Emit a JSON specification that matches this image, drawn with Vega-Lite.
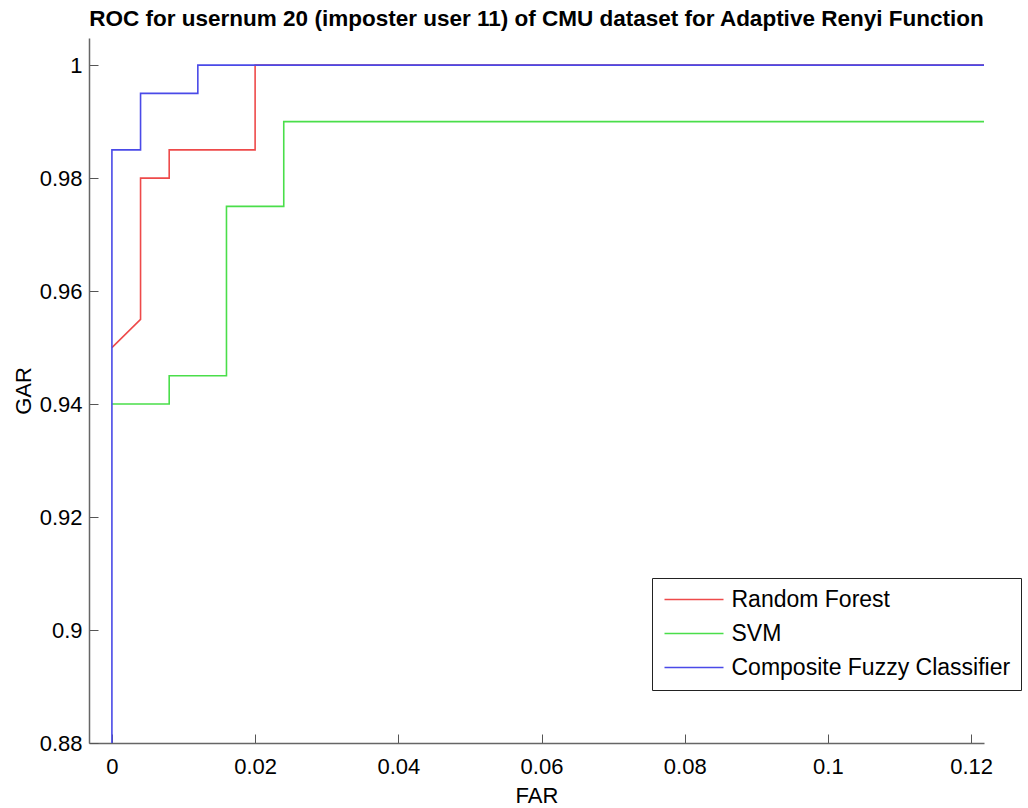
{
  "$schema": "https://vega.github.io/schema/vega-lite/v6.json",
  "autosize": {"type": "none"},
  "padding": {"left": 89, "top": 38, "right": 44, "bottom": 65},
  "width": 895,
  "height": 705,
  "background": "white",
  "title": {
    "text": "ROC for usernum 20 (imposter user 11) of CMU dataset for Adaptive Renyi Function",
    "font": "Liberation Sans",
    "fontSize": 22.5,
    "fontWeight": "bold",
    "color": "black",
    "anchor": "middle",
    "offset": 8
  },
  "data": {
    "values": [
      {"model": "Random Forest", "i": 0, "far": 0.0, "gar": 0.95},
      {"model": "Random Forest", "i": 1, "far": 0.004, "gar": 0.955},
      {"model": "Random Forest", "i": 2, "far": 0.004, "gar": 0.98},
      {"model": "Random Forest", "i": 3, "far": 0.008, "gar": 0.98},
      {"model": "Random Forest", "i": 4, "far": 0.008, "gar": 0.985},
      {"model": "Random Forest", "i": 5, "far": 0.02, "gar": 0.985},
      {"model": "Random Forest", "i": 6, "far": 0.02, "gar": 1.0},
      {"model": "Random Forest", "i": 7, "far": 0.122, "gar": 1.0},
      {"model": "SVM", "i": 0, "far": 0.0, "gar": 0.94},
      {"model": "SVM", "i": 1, "far": 0.008, "gar": 0.94},
      {"model": "SVM", "i": 2, "far": 0.008, "gar": 0.945},
      {"model": "SVM", "i": 3, "far": 0.016, "gar": 0.945},
      {"model": "SVM", "i": 4, "far": 0.016, "gar": 0.975},
      {"model": "SVM", "i": 5, "far": 0.024, "gar": 0.975},
      {"model": "SVM", "i": 6, "far": 0.024, "gar": 0.99},
      {"model": "SVM", "i": 7, "far": 0.122, "gar": 0.99},
      {"model": "Composite Fuzzy Classifier", "i": 0, "far": 0.0, "gar": 0.88},
      {"model": "Composite Fuzzy Classifier", "i": 1, "far": 0.0, "gar": 0.985},
      {"model": "Composite Fuzzy Classifier", "i": 2, "far": 0.004, "gar": 0.985},
      {"model": "Composite Fuzzy Classifier", "i": 3, "far": 0.004, "gar": 0.995},
      {"model": "Composite Fuzzy Classifier", "i": 4, "far": 0.012, "gar": 0.995},
      {"model": "Composite Fuzzy Classifier", "i": 5, "far": 0.012, "gar": 1.0},
      {"model": "Composite Fuzzy Classifier", "i": 6, "far": 0.122, "gar": 1.0}
    ]
  },
  "mark": {"type": "line", "strokeWidth": 1.6, "clip": true},
  "encoding": {
    "x": {
      "field": "far", "type": "quantitative",
      "scale": {"domain": [-0.0032, 0.1218], "nice": false, "zero": false},
      "axis": {
        "title": "FAR", "values": [0, 0.02, 0.04, 0.06, 0.08, 0.1, 0.12],
        "format": "~g", "grid": false,
        "tickSize": -9, "tickColor": "#555", "domainColor": "#666", "domainWidth": 1.5,
        "labelFont": "Liberation Sans", "labelFontSize": 22, "labelColor": "black", "labelPadding": 22,
        "titleFont": "Liberation Sans", "titleFontSize": 22, "titleFontWeight": "normal", "titleColor": "black", "titlePadding": 8
      }
    },
    "y": {
      "field": "gar", "type": "quantitative",
      "scale": {"domain": [0.88, 1.0048], "nice": false, "zero": false},
      "axis": {
        "title": "GAR", "values": [0.88, 0.9, 0.92, 0.94, 0.96, 0.98, 1],
        "format": "~g", "grid": false,
        "tickSize": -9, "tickColor": "#555", "domainColor": "#666", "domainWidth": 1.5,
        "labelFont": "Liberation Sans", "labelFontSize": 22, "labelColor": "black", "labelPadding": 16,
        "titleFont": "Liberation Sans", "titleFontSize": 22, "titleFontWeight": "normal", "titleColor": "black", "titlePadding": 4
      }
    },
    "color": {
      "field": "model", "type": "nominal",
      "sort": ["Random Forest", "SVM", "Composite Fuzzy Classifier"],
      "scale": {"domain": ["Random Forest", "SVM", "Composite Fuzzy Classifier"], "range": ["#ee4a4a", "#4ade4a", "#4a4ae8"]},
      "legend": {
        "title": null, "orient": "none", "legendX": 563, "legendY": 540,
        "strokeColor": "#222", "fillColor": "white", "padding": 10,
        "symbolType": "M-2.95,0H2.95", "symbolSize": 400, "symbolStrokeWidth": 1.5, "symbolOffset": 20.5,
        "labelFont": "Liberation Sans", "labelFontSize": 23, "labelColor": "black", "labelOffset": 26,
        "rowPadding": 10, "labelLimit": 400
      }
    },
    "order": {"field": "i", "type": "quantitative"}
  },
  "config": {"view": {"stroke": null}}
}
